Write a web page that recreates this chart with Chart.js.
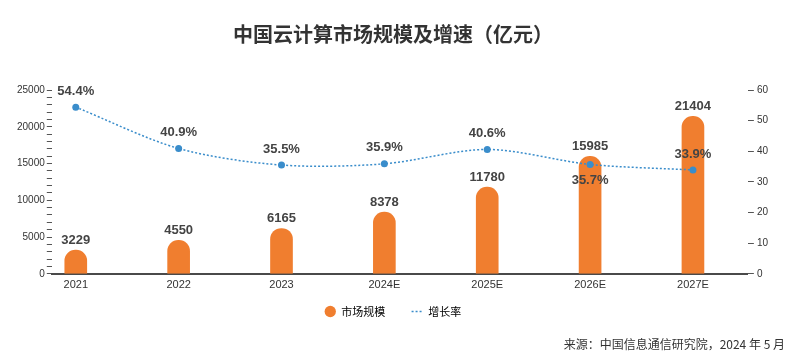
<!DOCTYPE html>
<html lang="zh">
<head>
    <meta charset="UTF-8">
    <script src="https://cdn.jsdelivr.net/npm/chart.js@4.4.1/dist/chart.umd.min.js"></script>
    <title>中国云计算市场规模及增速</title>
    <style>
        body { margin: 0; background: #fff; }
        .box { position: relative; width: 802px; height: 363px; }
        .fonte {
            position: absolute; right: 17px; top: 335px;
            font: 12px "Noto Sans CJK SC", sans-serif; color: #333;
        }
    </style>
</head>
<body>
    <div class="box">
        <canvas id="grafico" width="802" height="363"></canvas>
        <div class="fonte">来源：中国信息通信研究院，2024 年 5 月</div>
    </div>
<script>
    // dados
    var anos = ['2021', '2022', '2023', '2024E', '2025E', '2026E', '2027E'];
    var mercado = [3229, 4550, 6165, 8378, 11780, 15985, 21404];
    var crescimento = [54.4, 40.9, 35.5, 35.9, 40.6, 35.7, 33.9];
    var abaixo = [false, false, false, false, false, true, false]; // rótulo embaixo do ponto

    var laranja = '#F07E2F';
    var azul = '#3A8DCB';
    var fonteCN = '"Noto Sans CJK SC", sans-serif';
    var fonteNum = '"Liberation Sans", Arial, sans-serif';

    /* rótulos dos valores */
    var rotulos = {
        id: 'rotulos',
        afterDatasetsDraw: function (chart) {
            var ctx = chart.ctx;
            ctx.save();
            ctx.font = 'bold 13px ' + fonteNum;
            ctx.fillStyle = '#444';
            ctx.textAlign = 'center';
            ctx.textBaseline = 'middle';
            chart.getDatasetMeta(1).data.forEach(function (bar, i) {
                ctx.fillText(mercado[i], bar.x, bar.y - 10);
            });
            chart.getDatasetMeta(0).data.forEach(function (pt, i) {
                var dy = abaixo[i] ? 16 : -16;
                ctx.fillText(crescimento[i].toFixed(1) + '%', pt.x, pt.y + dy);
            });
            ctx.restore();
        }
    };

    new Chart(document.getElementById('grafico'), {
        data: {
            datasets: [{
                type: 'line',
                label: '增长率',
                data: crescimento.map(function (v, i) { return { x: i, y: v }; }),
                yAxisID: 'y1',
                borderColor: azul,
                backgroundColor: azul,
                borderWidth: 1.5,
                borderDash: [2, 2],
                tension: 0.3,
                pointRadius: 3.5,
                pointBorderWidth: 0,
                order: 0
            }, {
                type: 'bar',
                label: '市场规模',
                data: mercado.map(function (v, i) { return { x: i, y: v }; }),
                yAxisID: 'y',
                backgroundColor: laranja,
                barThickness: 22,
                borderRadius: { topLeft: 11, topRight: 11 },
                borderSkipped: 'bottom',
                order: 1
            }]
        },
        options: {
            responsive: false,
            animation: false,
            layout: { padding: { left: 15, right: 31, bottom: 36 } },
            scales: {
                x: {
                    type: 'linear',
                    offset: false,
                    min: -0.233,
                    max: 6.534,
                    afterBuildTicks: function (axis) {
                        axis.ticks = anos.map(function (a, i) { return { value: i }; });
                    },
                    afterFit: function (axis) { axis.height -= 4; },
                    ticks: {
                        callback: function (v) { return anos[v]; },
                        font: { size: 11, family: fonteNum },
                        color: '#333',
                        padding: 5
                    },
                    grid: { display: false, tickLength: 0 },
                    border: { color: '#4a4a4a', width: 2 }
                },
                y: {
                    position: 'left',
                    min: 0,
                    max: 25000,
                    ticks: {
                        stepSize: 1000,
                        autoSkip: false,
                        callback: function (v) { return v % 5000 === 0 ? v : ''; },
                        font: { size: 10, family: fonteNum },
                        color: '#333',
                        padding: 2
                    },
                    grid: { drawOnChartArea: false, tickLength: 5, color: '#555' },
                    border: { display: false }
                },
                y1: {
                    position: 'right',
                    min: 0,
                    max: 60,
                    ticks: {
                        stepSize: 10,
                        font: { size: 10, family: fonteNum },
                        color: '#333',
                        padding: 3
                    },
                    grid: { drawOnChartArea: false, tickLength: 6, color: '#555' },
                    border: { display: false }
                }
            },
            plugins: {
                title: {
                    display: true,
                    text: '中国云计算市场规模及增速（亿元）',
                    font: { size: 20, weight: 'bold', family: fonteCN },
                    color: '#333',
                    padding: { top: 22, bottom: 44 }
                },
                legend: {
                    position: 'bottom',
                    labels: {
                        usePointStyle: true,
                        boxHeight: 8,
                        padding: 13,
                        font: { size: 11, family: fonteCN },
                        color: '#333',
                        generateLabels: function () {
                            return [{
                                text: '市场规模\u3000 ', pointStyle: 'circle',
                                fillStyle: laranja, strokeStyle: laranja, lineWidth: 0, datasetIndex: 1
                            }, {
                                text: '增长率', pointStyle: 'line',
                                fillStyle: azul, strokeStyle: azul, lineWidth: 1.5,
                                lineDash: [2, 2], datasetIndex: 0
                            }];
                        }
                    }
                },
                tooltip: { enabled: false }
            }
        },
        plugins: [rotulos]
    });
</script>
</body>
</html>
